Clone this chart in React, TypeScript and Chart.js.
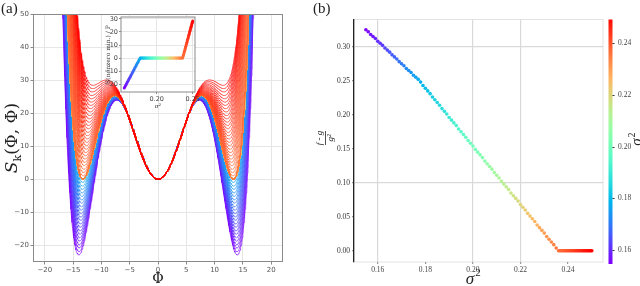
import React, { useEffect, useRef } from 'react';
import { Chart, registerables } from 'chart.js';
Chart.register(...registerables);

// sigma^2 values of the family (one curve / point per value)
const sigma2 = [
  0.155, 0.156, 0.157, 0.158, 0.159, 0.16, 0.161, 0.162, 0.163, 0.164,
  0.165, 0.166, 0.167, 0.168, 0.169, 0.17, 0.171, 0.172, 0.173, 0.174,
  0.175, 0.176, 0.177,
  0.178, 0.179, 0.18, 0.181, 0.182, 0.183, 0.184, 0.185, 0.186, 0.187,
  0.188, 0.189, 0.19, 0.191, 0.192, 0.193, 0.194, 0.195, 0.196, 0.197,
  0.198, 0.199, 0.2, 0.201, 0.202, 0.203, 0.204, 0.205, 0.206, 0.207,
  0.208, 0.209, 0.21, 0.211, 0.212, 0.213, 0.214, 0.215, 0.216, 0.217,
  0.218, 0.219, 0.22, 0.221, 0.222, 0.223, 0.224, 0.225, 0.226, 0.227,
  0.228, 0.229, 0.23, 0.231, 0.232, 0.233, 0.234, 0.235, 0.236,
  0.2365, 0.237, 0.2375, 0.238, 0.2385, 0.239, 0.2395, 0.24, 0.2405, 0.241,
  0.2415, 0.242, 0.2425, 0.243, 0.2435, 0.244, 0.2445, 0.245, 0.2455, 0.246,
  0.2465, 0.247, 0.2475, 0.248, 0.2485, 0.249, 0.2495, 0.25,
];

// panel (b): (f - g)/g^2
const ratioValues = [
  0.325, 0.322, 0.318, 0.315, 0.312, 0.308, 0.305, 0.302, 0.298, 0.295,
  0.292, 0.288, 0.285, 0.282, 0.278, 0.275, 0.272, 0.268, 0.265, 0.262,
  0.258, 0.255, 0.252,
  0.248, 0.243, 0.239, 0.235, 0.231, 0.226, 0.222, 0.218, 0.214, 0.209,
  0.205, 0.201, 0.196, 0.192, 0.188, 0.184, 0.179, 0.175, 0.171, 0.167,
  0.162, 0.158, 0.154, 0.149, 0.145, 0.141, 0.137, 0.132, 0.128, 0.124,
  0.12, 0.115, 0.111, 0.107, 0.102, 0.098, 0.094, 0.09, 0.085, 0.081,
  0.077, 0.073, 0.068, 0.064, 0.06, 0.055, 0.051, 0.047, 0.043, 0.038,
  0.034, 0.03, 0.026, 0.021, 0.017, 0.013, 0.009, 0.004, 0.0,
  0, 0, 0, 0, 0, 0, 0, 0, 0, 0,
  0, 0, 0, 0, 0, 0, 0, 0, 0, 0,
  0, 0, 0, 0, 0, 0, 0, 0,
];

// inset: value of the nonzero minimum / P (also the depth of the outer wells in panel a)
const nonzeroMin = [
  -23.0, -22.0, -20.9, -19.9, -18.8, -17.8, -16.7, -15.7, -14.6, -13.6,
  -12.5, -11.5, -10.5, -9.4, -8.4, -7.3, -6.3, -5.2, -4.2, -3.1,
  -2.1, -1.0, 0,
  0, 0, 0, 0, 0, 0, 0, 0, 0, 0,
  0, 0, 0, 0, 0, 0, 0, 0, 0, 0,
  0, 0, 0, 0, 0, 0, 0, 0, 0, 0,
  0, 0, 0, 0, 0, 0, 0, 0, 0, 0,
  0, 0, 0, 0, 0, 0, 0, 0, 0, 0,
  0, 0, 0, 0, 0, 0, 0, 0, 0,
  1.0, 2.0, 3.0, 4.1, 5.1, 6.1, 7.1, 8.1, 9.1, 10.2,
  11.2, 12.2, 13.2, 14.2, 15.3, 16.3, 17.3, 18.3, 19.3, 20.4,
  21.4, 22.4, 23.4, 24.4, 25.4, 26.5, 27.5, 28.5,
];

const phiTicks = [-20, -15, -10, -5, 0, 5, 10, 15, 20];
const sTicks = [-20, -10, 0, 10, 20, 30, 40, 50];
const insetXTicks = [0.2, 0.25];
const insetYTicks = [-20, -10, 0, 10, 20, 30];
const bXTicks = [0.16, 0.18, 0.2, 0.22, 0.24];
const bYTicks = [0, 0.05, 0.1, 0.15, 0.2, 0.25, 0.3];
const cbTicks = [0.16, 0.18, 0.2, 0.22, 0.24];
const bXGrid = [0.16, 0.2, 0.22];
const bYGrid = [0.3, 0.1];

const SMIN = 0.155;
const SMAX = 0.25;

function rainbow(t: number): string {
  const x = Math.min(1, Math.max(0, t));
  const r = Math.min(1, Math.abs(2 * x - 0.5));
  const g = Math.max(0, Math.sin(Math.PI * x));
  const b = Math.max(0, Math.cos((Math.PI * x) / 2));
  return `rgb(${Math.round(r * 255)},${Math.round(g * 255)},${Math.round(b * 255)})`;
}
const colorOf = (s: number) => rainbow((s - SMIN) / (SMAX - SMIN));

const minus = (v: number) => (v < 0 ? '\u2212' + Math.abs(v) : String(v));
const near = (v: any, arr: number[]) => typeof v === 'number' && arr.some((a) => Math.abs(a - v) < 1e-9);

// S_k(Phi,Phi) model: a*Phi^2 - b*Phi^4 + c*Phi^6 (u = Phi^2), outer minimum value from nonzeroMin,
// all curves sharing the same inner branch (common value at u = U_PIN)
const U_PIN = 28;
const refCurve = (() => {
  const u0 = 13.3 * 13.3;
  const a = 0.97;
  const c = a / (u0 * u0);
  const b = a / (2 * u0) + 1.5 * c * u0;
  return a * U_PIN - b * U_PIN * U_PIN + c * U_PIN * U_PIN * U_PIN;
})();
function det3(m: number[][]) {
  return (
    m[0][0] * (m[1][1] * m[2][2] - m[1][2] * m[2][1]) -
    m[0][1] * (m[1][0] * m[2][2] - m[1][2] * m[2][0]) +
    m[0][2] * (m[1][0] * m[2][1] - m[1][1] * m[2][0])
  );
}
function curvePoints(m: number) {
  const pos = m <= 0 ? 13.3 - (0.7 * m) / 23 : 13.3 - (1.8 * m) / 28.5;
  const u0 = pos * pos;
  const M = [
    [u0, -u0 * u0, u0 * u0 * u0],
    [1, -2 * u0, 3 * u0 * u0],
    [U_PIN, -U_PIN * U_PIN, U_PIN * U_PIN * U_PIN],
  ];
  const r = [m, 0, refCurve];
  const D = det3(M);
  const col = (k: number) => M.map((row, i) => row.map((v, j) => (j === k ? r[i] : v)));
  const a = det3(col(0)) / D;
  const b = det3(col(1)) / D;
  const c = det3(col(2)) / D;
  const pts: { x: number; y: number }[] = [];
  for (let k = -175; k <= 175; k++) {
    const p = k / 10;
    const u = p * p;
    pts.push({ x: p, y: a * u - b * u * u + c * u * u * u });
  }
  return pts;
}

export default function App() {
  const aRef = useRef<HTMLCanvasElement>(null);
  const insetRef = useRef<HTMLCanvasElement>(null);
  const bRef = useRef<HTMLCanvasElement>(null);

  useEffect(() => {
    const charts: Chart[] = [];
    const tickFontA = { family: 'DejaVu Sans', size: 7 };

    // ---------- panel (a) ----------
    const decorA = {
      id: 'decorA',
      afterDraw(chart: any) {
        const { ctx, chartArea: ca } = chart;
        ctx.save();
        ctx.strokeStyle = '#8a8a8a';
        ctx.lineWidth = 1;
        ctx.strokeRect(ca.left, ca.top, ca.right - ca.left, ca.bottom - ca.top);
        ctx.fillStyle = '#222';
        // x title
        ctx.font = '14px "DejaVu Serif"';
        ctx.textAlign = 'center';
        ctx.textBaseline = 'alphabetic';
        ctx.fillText('\u03A6', (ca.left + ca.right) / 2, 283);
        // y title
        ctx.save();
        ctx.translate(17, 138);
        ctx.rotate(-Math.PI / 2);
        const big = '17px "DejaVu Serif"';
        const small = '11px "DejaVu Serif"';
        ctx.font = big;
        const w1 = ctx.measureText('S').width;
        const w3 = ctx.measureText('(\u03A6, \u03A6)').width;
        ctx.font = small;
        const w2 = ctx.measureText('k').width;
        let x = -(w1 + w2 + w3) / 2;
        ctx.textAlign = 'left';
        ctx.font = 'italic ' + big;
        ctx.fillText('S', x, 0);
        x += w1;
        ctx.font = small;
        ctx.fillText('k', x, 4);
        x += w2;
        ctx.font = big;
        ctx.fillText('(\u03A6, \u03A6)', x, 0);
        ctx.restore();
        // panel label
        ctx.font = '15px "Liberation Serif"';
        ctx.textAlign = 'left';
        ctx.fillText('(a)', 1, 13);
        ctx.restore();
      },
    };

    // Chart.js paints dataset 0 last (on top): list the largest sigma^2 first so red is on top
    const order = sigma2.map((_, i) => i).reverse();

    if (aRef.current) {
      charts.push(
        new Chart(aRef.current, {
          type: 'line',
          data: {
            datasets: order.map((i) => ({
              data: curvePoints(nonzeroMin[i]),
              borderColor: colorOf(sigma2[i]),
              borderWidth: 0.65,
              pointRadius: 0,
              fill: false,
              tension: 0,
            })),
          },
          options: {
            responsive: false,
            animation: false,
            parsing: false,
            normalized: true,
            events: [],
            layout: { padding: { top: 14.5, right: 37.5, left: 0, bottom: 0 } },
            plugins: { legend: { display: false }, tooltip: { enabled: false } },
            scales: {
              x: {
                type: 'linear',
                min: -22,
                max: 22,
                afterBuildTicks: (s: any) => {
                  s.ticks = phiTicks.map((v) => ({ value: v }));
                },
                afterFit: (s: any) => {
                  s.height = 24.5;
                },
                ticks: { font: tickFontA, color: '#555', maxRotation: 0, autoSkip: false, padding: 1, callback: (v: any) => minus(v) },
                grid: { color: '#e6e6e6', tickColor: '#8a8a8a', tickLength: 3, lineWidth: 1 },
                border: { display: false },
              },
              y: {
                type: 'linear',
                min: -25,
                max: 50,
                afterBuildTicks: (s: any) => {
                  s.ticks = sTicks.map((v) => ({ value: v }));
                },
                afterFit: (s: any) => {
                  s.width = 33.5;
                },
                ticks: { font: tickFontA, color: '#555', autoSkip: false, padding: 1.5, callback: (v: any) => minus(v) },
                grid: { color: '#e6e6e6', tickColor: '#8a8a8a', tickLength: 3, lineWidth: 1 },
                border: { display: false },
              },
            },
          },
          plugins: [decorA],
        } as any)
      );
    }

    // ---------- inset ----------
    const decorInset = {
      id: 'decorInset',
      beforeDraw(chart: any) {
        const { ctx, chartArea: ca } = chart;
        ctx.save();
        ctx.fillStyle = '#ffffff';
        ctx.fillRect(ca.left, ca.top, ca.right - ca.left, ca.bottom - ca.top);
        ctx.restore();
      },
      afterDraw(chart: any) {
        const { ctx, chartArea: ca } = chart;
        ctx.save();
        ctx.strokeStyle = '#8a8a8a';
        ctx.lineWidth = 1;
        ctx.strokeRect(ca.left, ca.top, ca.right - ca.left, ca.bottom - ca.top);
        ctx.fillStyle = '#333';
        ctx.font = 'italic 6px "DejaVu Serif"';
        ctx.textAlign = 'center';
        ctx.textBaseline = 'middle';
        ctx.fillText('\u03C3\u00B2', (ca.left + ca.right) / 2, 101);
        ctx.save();
        ctx.translate(13, (ca.top + ca.bottom) / 2);
        ctx.rotate(-Math.PI / 2);
        ctx.font = '6px "DejaVu Serif"';
        ctx.fillText('S(nonzero min.) / P', 0, 0);
        ctx.restore();
        ctx.restore();
      },
    };
    if (insetRef.current) {
      charts.push(
        new Chart(insetRef.current, {
          type: 'scatter',
          data: {
            datasets: [
              {
                data: sigma2.map((s, i) => ({ x: s, y: nonzeroMin[i] })),
                pointBackgroundColor: sigma2.map((s) => colorOf(s)),
                pointBorderWidth: 0,
                pointRadius: 1.5,
              },
            ],
          },
          options: {
            responsive: false,
            animation: false,
            events: [],
            layout: { padding: { top: 12, right: 10, left: 0, bottom: 0 } },
            plugins: { legend: { display: false }, tooltip: { enabled: false } },
            scales: {
              x: {
                type: 'linear',
                min: 0.1505,
                max: 0.2532,
                afterBuildTicks: (s: any) => {
                  s.ticks = insetXTicks.map((v) => ({ value: v }));
                },
                afterFit: (s: any) => {
                  s.height = 23;
                },
                ticks: { font: { family: 'DejaVu Sans', size: 6.5 }, color: '#444', maxRotation: 0, autoSkip: false, padding: 1, callback: (v: any) => Number(v).toFixed(2) },
                grid: { color: '#e6e6e6', tickColor: '#8a8a8a', tickLength: 2 },
                border: { display: false },
              },
              y: {
                type: 'linear',
                min: -26,
                max: 31.5,
                afterBuildTicks: (s: any) => {
                  s.ticks = insetYTicks.map((v) => ({ value: v }));
                },
                afterFit: (s: any) => {
                  s.width = 26;
                },
                ticks: { font: { family: 'DejaVu Sans', size: 6.5 }, color: '#444', autoSkip: false, padding: 1, callback: (v: any) => minus(v) },
                grid: { color: '#e6e6e6', tickColor: '#8a8a8a', tickLength: 2 },
                border: { display: false },
              },
            },
          },
          plugins: [decorInset],
        } as any)
      );
    }

    // ---------- panel (b) ----------
    const serif = 'Liberation Serif';
    const decorB = {
      id: 'decorB',
      beforeDraw(chart: any) {
        const { ctx, chartArea: ca } = chart;
        ctx.save();
        ctx.strokeStyle = '#e3e3e3';
        ctx.lineWidth = 1;
        ctx.strokeRect(ca.left, ca.top, ca.right - ca.left, ca.bottom - ca.top);
        ctx.restore();
      },
      afterDraw(chart: any) {
        const { ctx, chartArea: ca } = chart;
        const cb = chart.scales.cb;
        ctx.save();
        // colorbar
        const y0 = cb.getPixelForValue(SMIN);
        const y1 = cb.getPixelForValue(SMAX);
        const grad = ctx.createLinearGradient(0, y0, 0, y1);
        for (let k = 0; k <= 20; k++) grad.addColorStop(k / 20, rainbow(k / 20));
        ctx.fillStyle = grad;
        ctx.fillRect(308.5, ca.top, 4, ca.bottom + 2 - ca.top);
        ctx.strokeStyle = '#333';
        ctx.lineWidth = 1;
        cbTicks.forEach((t) => {
          const y = Math.round(cb.getPixelForValue(t)) + 0.5;
          ctx.beginPath();
          ctx.moveTo(312.5, y);
          ctx.lineTo(314.5, y);
          ctx.stroke();
        });
        ctx.fillStyle = '#222';
        // colorbar label
        ctx.save();
        ctx.translate(337, 140);
        ctx.rotate(-Math.PI / 2);
        ctx.textAlign = 'center';
        ctx.textBaseline = 'middle';
        ctx.font = `italic 15px "${serif}"`;
        ctx.fillText('\u03C3', -2, 0);
        ctx.font = `10px "${serif}"`;
        ctx.fillText('2', 5, -5);
        ctx.restore();
        // x title
        ctx.textAlign = 'center';
        ctx.textBaseline = 'alphabetic';
        ctx.font = `italic 17px "${serif}"`;
        ctx.fillText('\u03C3', 170, 284);
        ctx.font = `11px "${serif}"`;
        ctx.fillText('2', 178, 276);
        // y title (fraction)
        ctx.save();
        ctx.translate(25, 138);
        ctx.rotate(-Math.PI / 2);
        ctx.font = `italic 9px "${serif}"`;
        ctx.textAlign = 'center';
        ctx.textBaseline = 'bottom';
        ctx.fillText('f - g', 0, -1);
        ctx.textBaseline = 'top';
        ctx.fillText('g\u00B2', 0, 1.5);
        ctx.strokeStyle = '#222';
        ctx.lineWidth = 0.8;
        ctx.beginPath();
        ctx.moveTo(-7, 0.5);
        ctx.lineTo(7, 0.5);
        ctx.stroke();
        ctx.restore();
        // panel label
        ctx.font = `15px "${serif}"`;
        ctx.textAlign = 'left';
        ctx.textBaseline = 'alphabetic';
        ctx.fillText('(b)', 13, 13);
        ctx.restore();
      },
    };
    const tickFontB = { family: serif, size: 7.5 };
    if (bRef.current) {
      charts.push(
        new Chart(bRef.current, {
          type: 'scatter',
          data: {
            datasets: [
              {
                data: sigma2.map((s, i) => ({ x: s, y: ratioValues[i] })),
                pointBackgroundColor: sigma2.map((s) => colorOf(s)),
                pointBorderWidth: 0,
                pointRadius: 1.8,
              },
            ],
          },
          options: {
            responsive: false,
            animation: false,
            events: [],
            layout: { padding: { top: 15, right: 0, left: 0, bottom: 0 } },
            plugins: { legend: { display: false }, tooltip: { enabled: false } },
            scales: {
              x: {
                type: 'linear',
                min: 0.15,
                max: 0.2547,
                afterBuildTicks: (s: any) => {
                  s.ticks = bXTicks.map((v) => ({ value: v }));
                },
                afterFit: (s: any) => {
                  s.height = 24;
                },
                ticks: { font: tickFontB, color: '#444', maxRotation: 0, autoSkip: false, padding: 2, callback: (v: any) => Number(v).toFixed(2) },
                grid: {
                  color: (c: any) => (near(c.tick && c.tick.value, bXGrid) ? '#d9d9d9' : 'rgba(0,0,0,0)'),
                  tickColor: '#999',
                  tickLength: 2,
                  lineWidth: 1.2,
                },
                border: { display: false },
              },
              y: {
                type: 'linear',
                min: -0.0165,
                max: 0.34,
                afterBuildTicks: (s: any) => {
                  s.ticks = bYTicks.map((v) => ({ value: v }));
                },
                afterFit: (s: any) => {
                  s.width = 54;
                },
                ticks: { font: tickFontB, color: '#333', autoSkip: false, padding: 2, callback: (v: any) => Number(v).toFixed(2) },
                grid: {
                  color: (c: any) => (near(c.tick && c.tick.value, bYGrid) ? '#d9d9d9' : 'rgba(0,0,0,0)'),
                  tickColor: '#999',
                  tickLength: 2,
                  lineWidth: 1.2,
                },
                border: { display: true, color: '#222', width: 1.3 },
              },
              cb: {
                type: 'linear',
                position: 'right',
                min: 0.1555,
                max: 0.249,
                afterBuildTicks: (s: any) => {
                  s.ticks = cbTicks.map((v) => ({ value: v }));
                },
                afterFit: (s: any) => {
                  s.width = 37;
                },
                ticks: { font: tickFontB, color: '#444', autoSkip: false, padding: 15, callback: (v: any) => Number(v).toFixed(2) },
                grid: { display: false, drawTicks: false },
                border: { display: false },
              },
            },
          },
          plugins: [decorB],
        } as any)
      );
    }

    return () => {
      charts.forEach((c) => c.destroy());
    };
  }, []);

  return (
    <div style={{ position: 'fixed', left: 0, top: 0, width: 640, height: 286, background: '#ffffff' }}>
      <canvas ref={aRef} width={320} height={286} style={{ position: 'absolute', left: 0, top: 0 }} />
      <canvas ref={bRef} width={340} height={286} style={{ position: 'absolute', left: 300, top: 0 }} />
      <canvas ref={insetRef} width={110} height={110} style={{ position: 'absolute', left: 95, top: 5 }} />
    </div>
  );
}
